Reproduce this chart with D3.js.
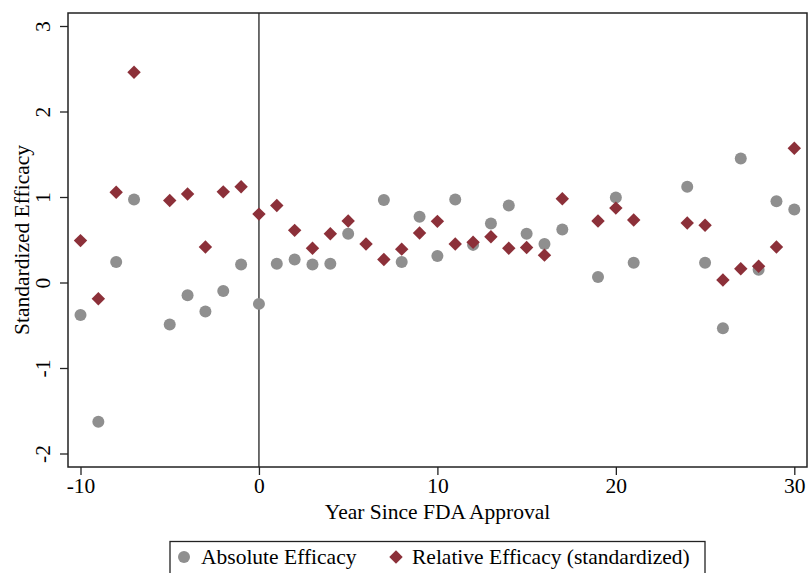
<!DOCTYPE html>
<html><head><meta charset="utf-8">
<script src="https://cdn.jsdelivr.net/npm/d3@7"></script>
<style>body{margin:0;background:#fff;} svg{display:block;}</style>
</head><body>
<script>
const absYears = [-10,-9,-8,-7,-5,-4,-3,-2,-1,0,1,2,3,4,5,7,8,9,10,11,12,13,14,15,16,17,19,20,21,24,25,26,27,28,29,30];
const absValues = [-0.38,-1.63,0.24,0.97,-0.49,-0.15,-0.34,-0.10,0.21,-0.25,0.22,0.27,0.21,0.22,0.57,0.965,0.24,0.77,0.31,0.97,0.44,0.69,0.90,0.57,0.45,0.62,0.065,0.995,0.23,1.12,0.23,-0.535,1.45,0.15,0.95,0.855];
const relYears = [-10,-9,-8,-7,-5,-4,-3,-2,-1,0,1,2,3,4,5,6,7,8,9,10,11,12,13,14,15,16,17,19,20,21,24,25,26,27,28,29,30];
const relValues = [0.49,-0.19,1.055,2.46,0.96,1.035,0.415,1.06,1.12,0.80,0.90,0.61,0.40,0.57,0.72,0.45,0.27,0.39,0.58,0.715,0.45,0.47,0.535,0.40,0.41,0.32,0.98,0.72,0.87,0.73,0.695,0.67,0.03,0.16,0.19,0.415,1.57];
const xTicks = [-10,0,10,20,30];
const yTicks = [-2,-1,0,1,2,3];
const seriesNames = ["Absolute Efficacy","Relative Efficacy (standardized)"];

const W=808,H=573;
const svg=d3.select("body").append("svg").attr("width",W).attr("height",H);
const font="'Liberation Serif','Times New Roman',serif";
const fs="21.5px";
const L=68,R=807,T=13,B=467;
const x=d3.scaleLinear().domain([-10,30]).range([80.5,794.3]);
const y=d3.scaleLinear().domain([0,3]).range([282.5,26]);
const gray="#8f8f8f", red="#8c3039";
const fmt=d=>d<0?"-"+Math.abs(d):String(d);

// frame
svg.append("rect").attr("x",L).attr("y",T).attr("width",R-L).attr("height",B-T)
  .attr("fill","none").attr("stroke","#222").attr("stroke-width",1.5);

// axes
const xa=svg.append("g").attr("transform",`translate(0,${B})`)
  .call(d3.axisBottom(x).tickValues(xTicks).tickSize(8).tickPadding(3).tickFormat(fmt));
const ya=svg.append("g").attr("transform",`translate(${L},0)`)
  .call(d3.axisLeft(y).tickValues(yTicks).tickSize(8).tickPadding(4).tickFormat(fmt));
[xa,ya].forEach(g=>{g.select(".domain").remove();
  g.selectAll(".tick line").attr("stroke","#222").attr("stroke-width",1.3);
  g.selectAll("text").attr("fill","#000").style("font-family",font).style("font-size",fs);});
ya.selectAll(".tick text").attr("text-anchor","middle").attr("x",0).attr("y",0)
  .attr("dy","0.35em").attr("transform","translate(-26,0) rotate(-90)");

// vertical line at 0
svg.append("line").attr("x1",x(0)).attr("x2",x(0)).attr("y1",T).attr("y2",B)
  .attr("stroke","#222").attr("stroke-width",1.3);

// points
svg.append("g").selectAll("circle").data(absYears.map((d,i)=>[d,absValues[i]])).join("circle")
  .attr("cx",d=>x(d[0])).attr("cy",d=>y(d[1])).attr("r",6).attr("fill",gray);
const dia=d3.symbol().type(d3.symbolDiamond2).size(115);
svg.append("g").selectAll("path").data(relYears.map((d,i)=>[d,relValues[i]])).join("path")
  .attr("d",dia).attr("transform",d=>`translate(${x(d[0])},${y(d[1])})`).attr("fill",red);

// titles
svg.append("text").attr("x",(L+R)/2).attr("y",519).attr("text-anchor","middle")
  .style("font-family",font).style("font-size",fs).text("Year Since FDA Approval");
svg.append("text").attr("transform",`translate(29,${(T+B)/2}) rotate(-90)`).attr("text-anchor","middle")
  .style("font-family",font).style("font-size",fs).text("Standardized Efficacy");

// legend
svg.append("rect").attr("x",170).attr("y",541.5).attr("width",535).attr("height",45)
  .attr("fill","#fff").attr("stroke","#222").attr("stroke-width",1.3);
svg.append("circle").attr("cx",184).attr("cy",557).attr("r",6).attr("fill",gray);
svg.append("path").attr("d",dia).attr("transform","translate(396,557)").attr("fill",red);
svg.append("text").attr("x",201).attr("y",564).style("font-family",font).style("font-size",fs).text(seriesNames[0]);
svg.append("text").attr("x",412).attr("y",564).style("font-family",font).style("font-size",fs).text(seriesNames[1]);
</script>
</body></html>
